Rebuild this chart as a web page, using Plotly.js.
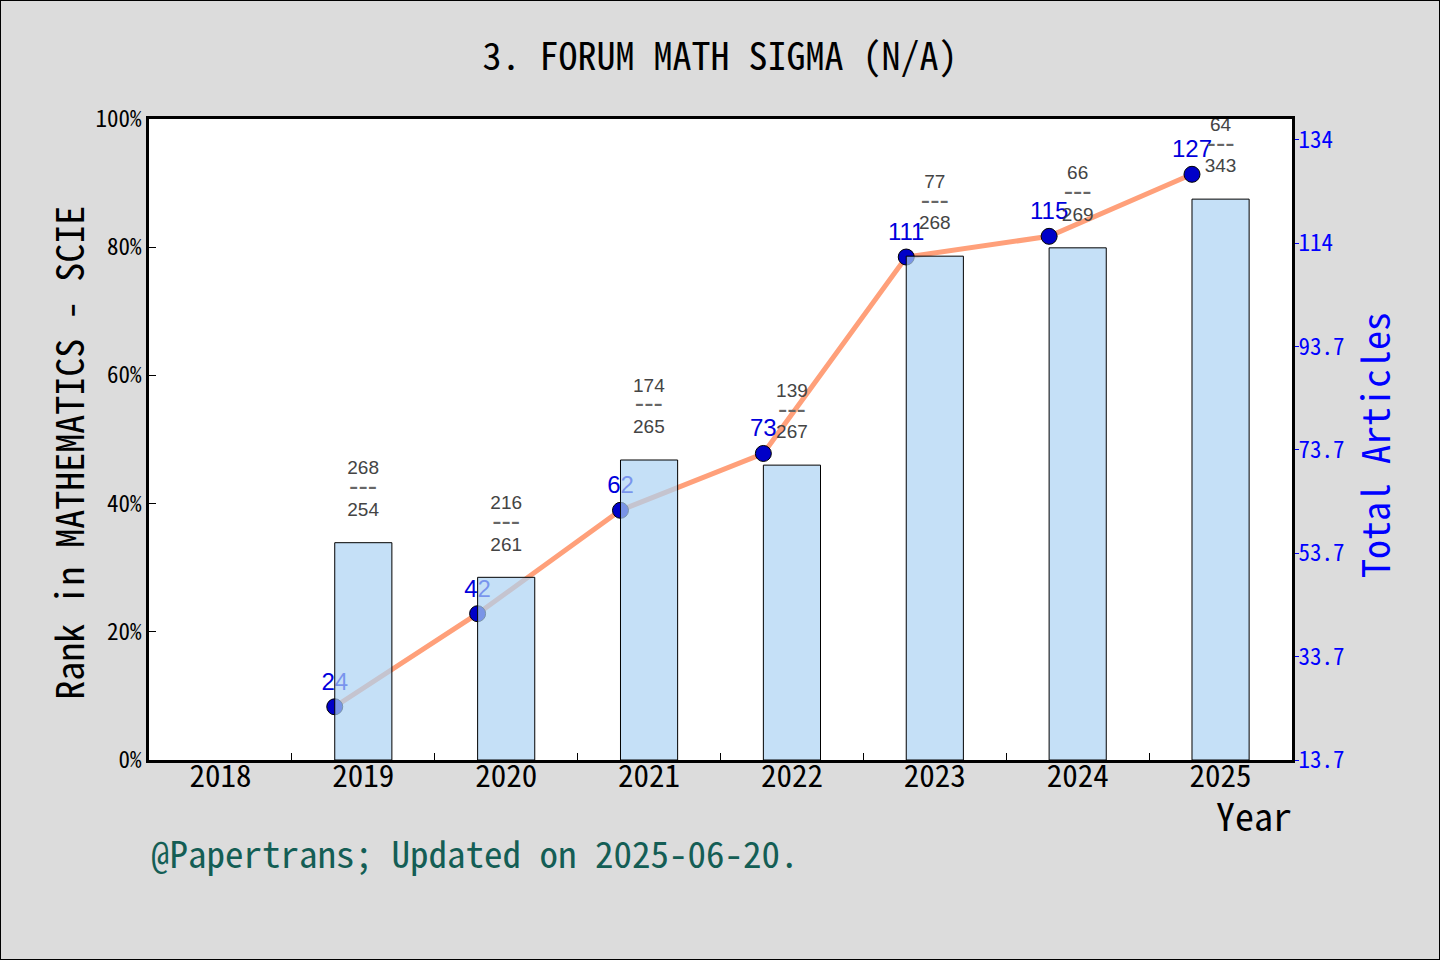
<!DOCTYPE html>
<html>
<head>
<meta charset="utf-8">
<script src="https://cdn.plot.ly/plotly-3.0.1.min.js"></script>
<style>
  body { margin: 0; background: #dcdcdc; }
  #chart { width: 1438px; height: 958px; border: 1px solid #000; }
</style>
</head>
<body>
<div id="chart"></div>
<script>
// data
var years = ['2018', '2019', '2020', '2021', '2022', '2023', '2024', '2025'];
var rankPercent = [null, 33.9, 28.5, 46.8, 46.0, 78.6, 79.9, 87.5];
var rankInCategory = [null, 268, 216, 174, 139, 77, 66, 64];
var journalsInCategory = [null, 254, 261, 265, 267, 268, 269, 343];
var totalArticles = [null, 24, 42, 62, 73, 111, 115, 127];
var articleTickVals = [13.7, 33.7, 53.7, 73.7, 93.7, 113.7, 133.7];
var articleTickText = ['13.7', '33.7', '53.7', '73.7', '93.7', '114', '134'];
var percentTickVals = [0, 20, 40, 60, 80, 100];
var percentTickText = ['0%', '20%', '40%', '60%', '80%', '100%'];

var MONO = '"Noto Sans Mono CJK SC", "DejaVu Sans Mono", monospace';
var SANS = '"Liberation Sans", Arial, sans-serif';

// line points sit on the left edge of each bar
var lineShift = -0.2;

// base size 16 keeps the line spacing tight, the digits themselves are bigger
var big = function (s) { return '<span style="font-size:19px">' + s + '</span>'; };
var dash = '<span style="font-size:28px;fill:#666">---</span>';
var barLabels = rankInCategory.map(function (r, i) {
    if (r === null) return '';
    return big(r) + '<br>' + dash + '<br>' + big(journalsInCategory[i]) + '<br> ';
});

// line lives on the main subplot (x / y), bars on the overlay (x2 / y2) so they sit on top
var lineTrace = {
    x: years.map(function (y, i) { return i + lineShift; }),
    y: totalArticles,
    xaxis: 'x',
    yaxis: 'y',
    type: 'scatter',
    mode: 'lines+markers+text',
    line: {color: 'rgb(255,160,122)', width: 5},
    marker: {size: 16, color: 'rgb(0,0,200)', line: {color: '#000', width: 1}},
    text: totalArticles.map(function (v) { return v === null ? '' : String(v); }),
    textposition: 'top center',
    textfont: {family: SANS, size: 24, color: 'rgb(0,0,220)'},
    cliponaxis: false,
    hoverinfo: 'y',
    showlegend: false
};

var barTrace = {
    x: years,
    y: rankPercent,
    xaxis: 'x2',
    yaxis: 'y2',
    type: 'bar',
    width: 0.4,
    marker: {color: 'rgba(172,211,244,0.7)', line: {color: '#000', width: 1}},
    text: barLabels,
    textposition: 'outside',
    textfont: {family: SANS, size: 16, color: '#444'},
    cliponaxis: false,
    hoverinfo: 'x+y',
    showlegend: false
};

var layout = {
    autosize: false,
    width: 1438,
    height: 958,
    paper_bgcolor: '#dcdcdc',
    plot_bgcolor: '#ffffff',
    margin: {l: 148, r: 147, t: 118, b: 199, pad: 0},
    title: {
        text: '3. FORUM MATH SIGMA (N/A)',
        font: {family: MONO, size: 38, color: '#000'},
        x: 0.5, xanchor: 'center',
        y: 0.9415, yanchor: 'middle'
    },
    xaxis: {
        range: [-0.5, 7.5],
        visible: false
    },
    xaxis2: {
        type: 'category',
        overlaying: 'x',
        anchor: 'y2',
        range: [-0.5, 7.5],
        showline: true, linecolor: '#000', linewidth: 3, mirror: true,
        ticks: 'inside', tickson: 'boundaries', ticklen: 7, tickcolor: '#000',
        tickfont: {family: MONO, size: 31, color: '#000'},
        ticklabelstandoff: -13,
        showgrid: false, zeroline: false
    },
    yaxis: {
        side: 'right',
        range: [13.7, 137.7],
        tickvals: articleTickVals,
        ticktext: articleTickText,
        ticks: 'outside', ticklen: 4, tickcolor: 'rgb(0,0,255)',
        tickfont: {family: MONO, size: 23, color: 'rgb(0,0,255)'},
        ticklabelstandoff: -5,
        showline: true, linecolor: '#000', linewidth: 3,
        showgrid: false, zeroline: false
    },
    yaxis2: {
        side: 'left',
        overlaying: 'y',
        range: [0, 100],
        tickvals: percentTickVals,
        ticktext: percentTickText,
        ticks: 'inside', ticklen: 7, tickcolor: '#000',
        tickfont: {family: MONO, size: 23, color: '#000'},
        showline: true, linecolor: '#000', linewidth: 3,
        showgrid: false, zeroline: false
    },
    annotations: [
        {
            text: 'Rank in MATHEMATICS - SCIE', textangle: -90,
            xref: 'paper', yref: 'paper', x: -0.071, y: 0.479,
            xanchor: 'center', yanchor: 'middle', showarrow: false,
            font: {family: MONO, size: 38, color: '#000'}
        },
        {
            text: 'Total Articles', textangle: -90,
            xref: 'paper', yref: 'paper', x: 1.0709, y: 0.4914,
            xanchor: 'center', yanchor: 'middle', showarrow: false,
            font: {family: MONO, size: 38, color: 'rgb(0,0,255)'}
        },
        {
            text: 'Year', xref: 'paper', yref: 'paper', x: 1.002, y: -0.085,
            xanchor: 'right', yanchor: 'middle', showarrow: false,
            font: {family: MONO, size: 38, color: '#000'}
        },
        {
            text: '@Papertrans; Updated on 2025-06-20.', xref: 'paper', yref: 'paper', x: 0, y: -0.143,
            xanchor: 'left', yanchor: 'middle', showarrow: false,
            font: {family: MONO, size: 37, color: 'rgb(20,94,85)'}
        }
    ]
};

Plotly.newPlot('chart', [lineTrace, barTrace], layout, {displayModeBar: false});
</script>
</body>
</html>
